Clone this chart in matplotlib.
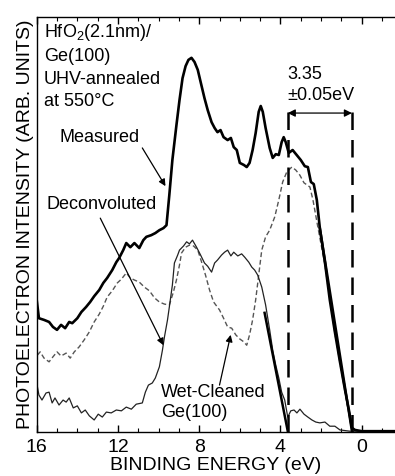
import matplotlib
matplotlib.use("Agg")
import matplotlib.pyplot as plt
from matplotlib.ticker import MultipleLocator

plt.rcParams["font.family"] = ["Liberation Sans", "DejaVu Sans"]
plt.rcParams["mathtext.fontset"] = "custom"
plt.rcParams["mathtext.rm"] = "Liberation Sans"
plt.rcParams["mathtext.default"] = "regular"

# Measured spectrum (HfO2/Ge, UHV-annealed)
meas_e = [16.0, 15.89, 15.64, 15.39, 15.2, 15.0, 14.8, 14.6, 14.4, 14.25, 14.0, 13.8,
          13.57, 13.37, 13.17, 12.92, 12.72, 12.53, 12.28, 12.08, 11.94, 11.74, 11.59,
          11.39, 11.19, 10.95, 10.75, 10.6, 10.36, 10.16, 9.96, 9.76, 9.61, 9.47, 9.32,
          9.12, 8.97, 8.82, 8.67, 8.53, 8.38, 8.23, 8.07, 7.93, 7.74, 7.58, 7.39, 7.24,
          7.1, 6.95, 6.8, 6.6, 6.44, 6.3, 6.15, 6.0, 5.8, 5.66, 5.52, 5.37, 5.22, 5.07,
          4.97, 4.87, 4.73, 4.53, 4.38, 4.23, 4.08, 3.94, 3.84, 3.74, 3.59, 3.4, 3.2,
          3.0, 2.8, 2.65, 2.5, 2.36, 2.21, 2.06, 1.81, 1.57, 1.32, 1.07, 0.82, 0.63,
          0.48, 0.33, 0.0, -0.66, -1.64]
meas_i = [31.8, 27.4, 27.0, 26.5, 25.3, 24.6, 25.8, 25.0, 26.5, 26.2, 27.4, 28.9,
          30.1, 31.3, 32.7, 34.2, 35.9, 37.1, 39.0, 40.9, 41.9, 43.8, 45.5,
          44.5, 45.5, 44.3, 46.2, 47.0, 47.4, 47.9, 48.6, 49.1, 49.8, 57.1, 65.5,
          73.9, 79.9, 85.2, 88.1, 89.6, 90.1, 89.1, 87.2, 84.3, 80.4, 77.5, 74.6, 73.2,
          72.2, 72.7, 71.0, 70.3, 70.8, 68.6, 67.9, 64.8, 64.3, 63.8, 64.8, 67.9, 72.0, 77.1,
          78.5, 77.1, 73.2, 68.4, 66.0, 66.9, 66.7, 69.8, 71.0, 69.8, 67.2, 67.9, 66.7,
          65.5, 64.0, 63.8, 60.2, 59.7, 55.9, 49.1, 40.9, 31.8, 24.1, 16.9, 10.1, 5.3,
          1.0, 0.5, 0.2, 0.2, 0.2]

# Deconvoluted spectrum
dec_e = [16.0, 15.89, 15.74, 15.54, 15.39, 15.24, 15.1, 14.9, 14.7, 14.55, 14.4, 14.2,
         14.0, 13.8, 13.61, 13.41, 13.17, 12.97, 12.77, 12.57, 12.33, 12.08, 11.83,
         11.59, 11.34, 11.1, 10.8, 10.65, 10.5, 10.31, 10.16, 9.96, 9.81, 9.71, 9.56,
         9.47, 9.32, 9.22, 9.06, 8.97, 8.77, 8.62, 8.48, 8.33, 8.13, 7.93, 7.74, 7.58,
         7.39, 7.24, 7.1, 6.9, 6.75, 6.6, 6.44, 6.3, 6.1, 5.91, 5.76, 5.56, 5.41, 5.27,
         5.12, 4.92, 4.73, 4.53, 4.38, 4.23, 4.08, 3.94, 3.79, 3.64, 3.49, 3.33, 3.19,
         3.04, 2.84, 2.65, 2.45, 2.26, 2.06, 1.81, 1.57, 1.32, 1.07, 0.58, -1.64]
dec_i = [11.8, 8.9, 7.7, 9.4, 9.6, 7.0, 8.2, 6.5, 7.7, 7.2, 8.2, 5.8,
         6.3, 4.6, 5.3, 3.9, 2.9, 4.3, 3.6, 4.8, 4.6, 5.3, 5.1,
         6.0, 5.5, 6.7, 7.0, 9.6, 11.3, 11.8, 13.0, 15.7, 19.7, 22.9, 27.0,
         30.1, 35.4, 40.7, 42.6, 43.8, 44.8, 45.8, 45.3, 46.2, 44.5, 42.6, 40.7, 39.9,
         38.5, 40.7, 41.4, 42.6, 43.3, 43.8, 42.4, 43.3, 42.4, 42.9, 42.1, 40.9, 39.7, 39.0,
         37.8, 34.9, 30.6, 24.6, 19.7, 16.1, 13.0, 9.6, 7.7, 3.6, 5.1, 5.3, 4.6,
         5.5, 4.3, 3.6, 2.9, 2.4, 2.2, 2.4, 1.4, 1.4, 0.5, 0.2, 0.2]

# Wet-cleaned Ge(100) reference
wet_e = [15.97, 15.83, 15.64, 15.39, 15.2, 15.0, 14.8, 14.55, 14.35, 14.15, 13.91,
         13.66, 13.41, 13.17, 12.92, 12.72, 12.53, 12.28, 12.03, 11.83, 11.59, 11.39,
         11.19, 10.95, 10.7, 10.45, 10.2, 9.96, 9.71, 9.47, 9.27, 9.12, 8.97, 8.87,
         8.67, 8.48, 8.28, 8.07, 7.88, 7.69, 7.49, 7.29, 7.0, 6.8, 6.6, 6.4, 6.2, 6.0,
         5.8, 5.66, 5.52, 5.37, 5.22, 5.07, 4.92, 4.73, 4.53, 4.28, 4.08, 3.89, 3.69,
         3.44, 3.25, 3.05, 2.84, 2.55, 2.4, 2.16, 1.81, 1.32, 0.82, 0.48, 0.2, -1.64]
wet_i = [18.5, 19.3, 17.8, 16.9, 18.1, 19.3, 18.3, 19.0, 17.8, 19.3, 20.5,
         22.2, 24.1, 26.5, 28.4, 30.3, 32.5, 34.0, 35.9, 36.8, 38.3, 37.1,
         36.6, 36.1, 34.9, 34.0, 32.3, 31.3, 30.8, 30.6, 33.7, 36.6, 40.2, 43.1,
         44.5, 45.0, 44.8, 43.8, 40.9, 37.8, 34.2, 31.3, 29.4, 27.4, 25.3, 25.0, 23.4, 22.4,
         21.7, 20.9, 23.4, 27.0, 31.8, 37.8, 43.8, 47.0, 48.6, 51.8, 55.9, 60.2, 62.6,
         63.8, 63.1, 61.9, 60.0, 59.0, 55.9, 49.4, 40.2, 23.8, 9.6, 0.7, 0.2, 0.2]

# linear extrapolation of leading edges
fit_dec_e = [4.78, 3.64]
fit_dec_i = [28.7, 0.2]
fit_meas_e = [2.06, 0.48]
fit_meas_i = [49.1, 0.2]

vbm_dec = 3.64
vbm_meas = 0.48

fig = plt.figure(figsize=(3.95, 4.76), dpi=100)
ax = fig.add_axes([0.0929, 0.0924, 0.9071, 0.8725])

ax.plot(wet_e, wet_i, color="#555555", lw=1.0, ls=(0, (3.5, 2)))
ax.plot(dec_e, dec_i, color="#222222", lw=0.9)
ax.plot(meas_e, meas_i, color="black", lw=1.9)
ax.plot(fit_dec_e, fit_dec_i, color="black", lw=1.8)
ax.plot(fit_meas_e, fit_meas_i, color="black", lw=1.8)

for e in (vbm_dec, vbm_meas):
    ax.plot([e, e], [0, 77.5], color="black", lw=1.8, ls=(0, (7, 4)))

ax.annotate("", xy=(vbm_meas, 76.8), xytext=(vbm_dec, 76.8),
            arrowprops=dict(arrowstyle="<|-|>", color="black", lw=0.9,
                            mutation_scale=11, shrinkA=0, shrinkB=0))

fs = 13
fs_ax = 14
ax.text(15.64, 96.1, "HfO$_2$(2.1nm)/", fontsize=fs, va="center", ha="left")
ax.text(15.64, 90.3, "Ge(100)", fontsize=fs, va="center", ha="left")
ax.text(15.64, 84.8, "UHV-annealed", fontsize=fs, va="center", ha="left")
ax.text(15.64, 79.5, "at 550°C", fontsize=fs, va="center", ha="left")

ax.text(3.64, 86.0, "3.35", fontsize=fs, va="center", ha="left")
ax.text(3.64, 81.1, "±0.05eV", fontsize=fs, va="center", ha="left")

arrow_kw = dict(arrowstyle="-|>", color="black", lw=0.9, mutation_scale=10,
                shrinkA=0, shrinkB=0)
ax.text(12.92, 71.0, "Measured", fontsize=fs, va="center", ha="center")
ax.annotate("", xy=(9.66, 59.2), xytext=(10.80, 68.4), arrowprops=arrow_kw)

ax.text(12.82, 54.7, "Deconvoluted", fontsize=fs, va="center", ha="center")
ax.annotate("", xy=(9.76, 20.9), xytext=(12.87, 51.5), arrowprops=arrow_kw)

ax.text(9.86, 9.4, "Wet-Cleaned", fontsize=fs, va="center", ha="left")
ax.text(9.86, 4.6, "Ge(100)", fontsize=fs, va="center", ha="left")
ax.annotate("", xy=(6.45, 23.4), xytext=(7.0, 11.3), arrowprops=arrow_kw)

ax.set_xlim(16, -1.64)
ax.set_ylim(0, 100)
ax.xaxis.set_minor_locator(MultipleLocator(1))
ax.set_xticks([16, 12, 8, 4, 0])
ax.set_xticklabels(["16", "12", "8", "4", "0"], fontsize=fs_ax)
ax.tick_params(axis="x", which="both", direction="in", top=True, pad=5)
ax.tick_params(axis="x", which="major", length=5, width=1)
ax.tick_params(axis="x", which="minor", length=3, width=0.8)
ax.set_yticks([])
ax.spines["right"].set_visible(False)
for s in ("left", "bottom", "top"):
    ax.spines[s].set_linewidth(1.0)

ax.set_xlabel("BINDING ENERGY (eV)", fontsize=fs_ax, labelpad=1)
ax.set_ylabel("PHOTOELECTRON INTENSITY (ARB. UNITS)", fontsize=fs_ax, labelpad=2)

fig.savefig("out.png", dpi=100)
